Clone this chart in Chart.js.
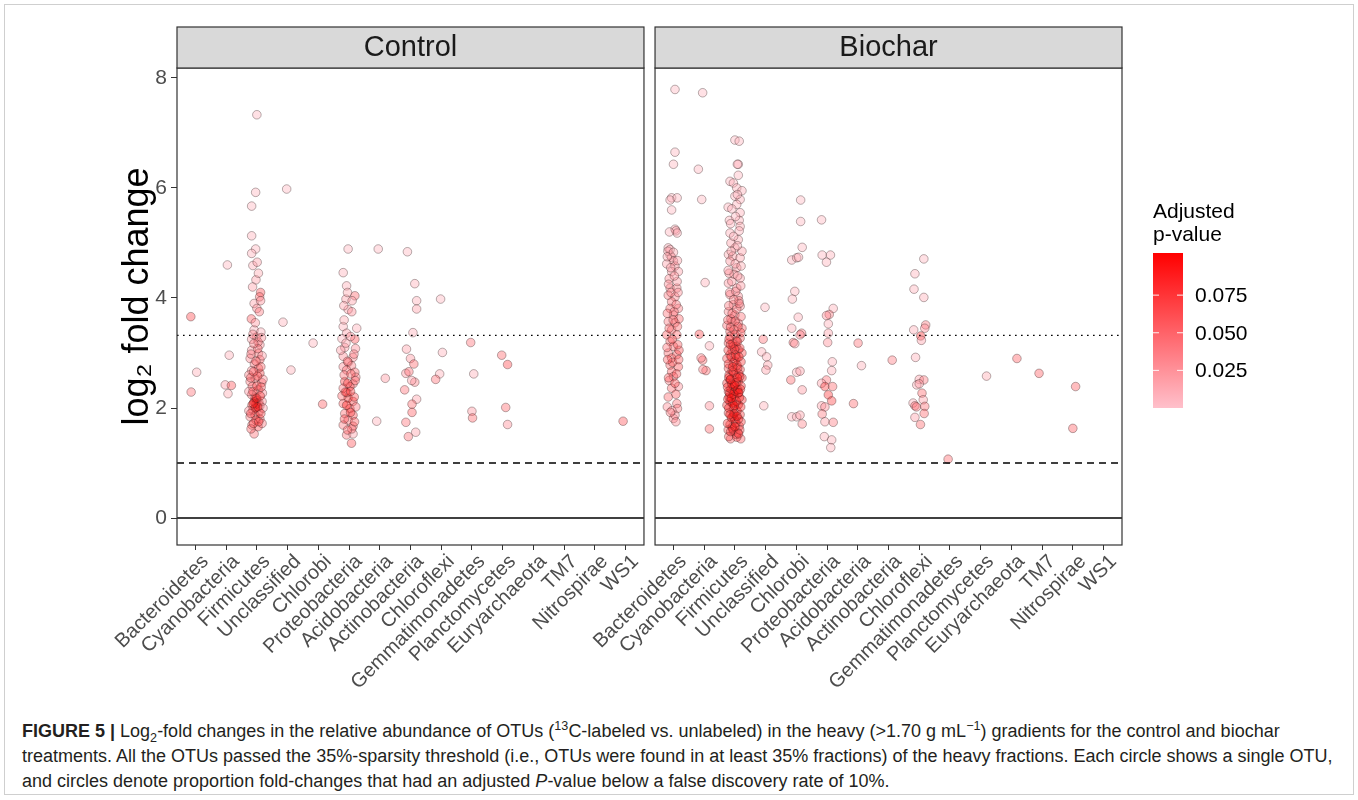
<!DOCTYPE html>
<html>
<head>
<meta charset="utf-8">
<title>Log2 fold change of OTUs</title>
<script src="https://cdn.jsdelivr.net/npm/chart.js@4.4.1/dist/chart.umd.min.js"></script>
<style>
  body { margin: 0; background: #fff; font-family: "Liberation Sans", Arial, sans-serif; }
  #frame { position: absolute; left: 4px; top: 4px; width: 1348px; height: 789px; border: 1px solid #cfcfcf; }
  #wrap { position: absolute; left: 0; top: 0; width: 1358px; height: 700px; }
  #caption {
    position: absolute; left: 22px; top: 719px; white-space: nowrap;
    font-family: "Liberation Sans Narrow", "Arial Narrow", sans-serif;
    font-size: 18px; line-height: 25px; color: #231f20;
  }
  #caption sup, #caption sub { font-size: 70%; line-height: 0; }
</style>
</head>
<body>
<div id="frame"></div>
<div id="wrap"><canvas id="chartCanvas"></canvas></div>
<div id="caption"><b>FIGURE 5 |</b> Log<sub>2</sub>-fold changes in the relative abundance of OTUs (<sup>13</sup>C-labeled vs. unlabeled) in the heavy (&gt;1.70 g mL<sup>−1</sup>) gradients for the control and biochar<br>treatments. All the OTUs passed the 35%-sparsity threshold (i.e., OTUs were found in at least 35% fractions) of the heavy fractions. Each circle shows a single OTU,<br>and circles denote proportion fold-changes that had an adjusted <i>P</i>-value below a false discovery rate of 10%.</div>
<script>
const phyla = ["Bacteroidetes", "Cyanobacteria", "Firmicutes", "Unclassified", "Chlorobi",
  "Proteobacteria", "Acidobacteria", "Actinobacteria", "Chloroflexi", "Gemmatimonadetes",
  "Planctomycetes", "Euryarchaeota", "TM7", "Nitrospirae", "WS1"];
const panels = ["Control", "Biochar"];
const yTicks = [0, 2, 4, 6, 8];
const refLines = [0, 1, 3.32]; // zero, 2-fold and 10-fold lines
const legendTicks = [0.025, 0.050, 0.075];

// Each OTU: [jittered phylum position, log2 fold change, adjusted p-value]
const controlOtus = [
  // Bacteroidetes
  [0.85, 3.66, 0.065], [1.04, 2.65, 0.012], [0.86, 2.29, 0.045],
  // Cyanobacteria
  [2.04, 4.60, 0.008], [2.10, 2.96, 0.012], [1.97, 2.42, 0.02], [2.17, 2.41, 0.06], [2.06, 2.26, 0.015],
  // Firmicutes
  [3.00, 7.33, 0.006], [2.96, 5.92, 0.008], [2.83, 5.67, 0.008], [2.83, 5.13, 0.01], [2.96, 4.89, 0.008],
  [2.83, 4.81, 0.01], [2.87, 4.59, 0.012], [3.01, 4.65, 0.02], [2.97, 4.33, 0.02], [3.12, 4.10, 0.06],
  [3.09, 4.02, 0.05], [2.91, 3.90, 0.02], [3.00, 3.81, 0.03], [3.08, 3.75, 0.04], [2.82, 3.62, 0.055],
  [2.91, 3.42, 0.01], [2.99, 3.29, 0.05], [2.83, 3.25, 0.02], [3.10, 3.15, 0.03], [2.83, 3.05, 0.025],
  [3.05, 2.99, 0.05], [2.78, 2.90, 0.03], [3.10, 2.88, 0.06], [2.92, 2.80, 0.045], [3.05, 2.72, 0.05],
  [2.83, 2.68, 0.03], [3.10, 2.63, 0.065], [2.94, 2.54, 0.05], [2.78, 2.48, 0.04], [3.16, 2.46, 0.06],
  [2.85, 2.39, 0.045], [3.05, 2.33, 0.06], [3.18, 2.27, 0.03], [2.83, 2.24, 0.05], [2.94, 2.18, 0.08],
  [3.00, 2.14, 0.09], [2.91, 2.11, 0.085], [3.07, 2.10, 0.08], [2.97, 2.07, 0.09], [2.84, 2.05, 0.07],
  [3.10, 2.04, 0.06], [3.17, 2.12, 0.03], [2.87, 1.96, 0.06], [3.07, 1.93, 0.05], [2.94, 1.87, 0.07],
  [2.78, 1.84, 0.04], [3.10, 1.80, 0.055], [2.97, 1.78, 0.06], [2.84, 1.69, 0.05], [3.04, 1.66, 0.065],
  [2.91, 1.53, 0.045], [3.13, 3.38, 0.012], [2.87, 3.34, 0.03], [3.04, 3.20, 0.04], [3.17, 2.95, 0.02],
  [2.74, 2.60, 0.035], [3.20, 2.52, 0.03], [2.74, 2.30, 0.025], [3.20, 2.00, 0.02], [2.74, 1.95, 0.03],
  [3.17, 1.72, 0.04], [2.81, 1.62, 0.05],
  [2.89, 1.72, 0.06], [3.06, 1.75, 0.07], [2.80, 1.90, 0.06], [3.13, 1.90, 0.065], [2.95, 2.00, 0.09],
  [3.03, 2.02, 0.095], [2.88, 2.08, 0.085], [2.99, 2.18, 0.085], [3.11, 2.22, 0.07], [2.87, 2.30, 0.06],
  [3.00, 2.40, 0.065], [3.14, 2.38, 0.055], [2.80, 2.55, 0.05], [3.02, 2.58, 0.06], [2.89, 2.66, 0.055],
  [3.13, 2.75, 0.05], [2.97, 2.85, 0.05], [2.81, 2.98, 0.04], [3.03, 3.08, 0.045], [2.90, 3.17, 0.04],
  [3.15, 3.28, 0.03], [2.95, 3.55, 0.025], [3.12, 3.95, 0.03], [2.86, 4.20, 0.02], [3.05, 4.45, 0.015],
  // Unclassified
  [3.97, 5.98, 0.006], [3.85, 3.56, 0.01], [4.11, 2.69, 0.012],
  // Chlorobi
  [4.83, 3.18, 0.01], [5.14, 2.07, 0.055],
  // Proteobacteria
  [5.97, 4.89, 0.008], [5.81, 4.46, 0.01], [5.92, 4.22, 0.012], [6.19, 4.04, 0.05], [5.90, 3.98, 0.02],
  [5.97, 3.79, 0.02], [6.09, 3.75, 0.03], [5.81, 3.48, 0.01], [5.92, 3.36, 0.02], [6.19, 3.25, 0.06],
  [5.77, 3.26, 0.01], [6.21, 3.08, 0.03], [5.86, 3.10, 0.025], [5.81, 2.94, 0.03], [6.13, 2.92, 0.035],
  [5.97, 2.83, 0.05], [6.08, 2.77, 0.04], [5.81, 2.75, 0.03], [6.19, 2.65, 0.05], [5.92, 2.69, 0.045],
  [5.86, 2.48, 0.07], [6.13, 2.44, 0.05], [6.03, 2.39, 0.06], [5.81, 2.36, 0.045], [5.97, 2.18, 0.085],
  [6.13, 2.12, 0.07], [5.81, 2.08, 0.055], [6.03, 1.99, 0.075], [5.86, 1.90, 0.05], [6.13, 1.87, 0.06],
  [5.97, 1.78, 0.045], [5.81, 1.69, 0.04], [6.13, 1.67, 0.05], [5.92, 1.51, 0.04], [6.13, 1.53, 0.02],
  [6.08, 1.36, 0.06], [5.73, 3.05, 0.02], [6.22, 2.56, 0.04], [5.77, 2.22, 0.05], [6.22, 2.02, 0.04],
  [5.93, 2.28, 0.06], [6.09, 1.62, 0.045], [6.25, 3.45, 0.012], [5.83, 3.86, 0.02],
  [5.95, 1.60, 0.05], [6.18, 1.75, 0.055], [5.85, 1.80, 0.06], [6.05, 1.92, 0.07], [5.92, 2.05, 0.085],
  [6.17, 2.20, 0.06], [5.88, 2.29, 0.07], [6.05, 2.30, 0.075], [5.96, 2.45, 0.065], [6.20, 2.50, 0.05],
  [5.84, 2.60, 0.045], [6.06, 2.62, 0.05], [5.95, 2.85, 0.04], [6.16, 2.98, 0.035], [5.90, 3.18, 0.02],
  [6.05, 3.30, 0.025], [5.84, 3.60, 0.015], [6.10, 3.95, 0.02], [5.95, 4.10, 0.015],
  // Acidobacteria
  [6.95, 4.89, 0.008], [7.18, 2.54, 0.025], [6.90, 1.76, 0.012],
  // Actinobacteria
  [7.90, 4.84, 0.008], [8.14, 4.26, 0.012], [8.20, 3.95, 0.012], [8.20, 3.80, 0.02], [8.08, 3.37, 0.012],
  [7.87, 3.07, 0.02], [8.00, 2.90, 0.025], [8.11, 2.80, 0.05], [7.85, 2.63, 0.025], [7.95, 2.66, 0.045],
  [8.14, 2.47, 0.035], [8.04, 2.50, 0.02], [7.81, 2.33, 0.045], [8.20, 2.16, 0.02], [8.05, 2.07, 0.05],
  [8.05, 1.92, 0.055], [7.85, 1.74, 0.045], [8.17, 1.56, 0.02], [7.93, 1.48, 0.045],
  // Chloroflexi
  [8.98, 3.98, 0.008], [9.04, 3.01, 0.01], [8.95, 2.62, 0.012], [8.82, 2.52, 0.045],
  // Gemmatimonadetes
  [9.96, 3.19, 0.045], [10.06, 2.62, 0.012], [10.00, 1.94, 0.025], [10.02, 1.82, 0.05],
  // Planctomycetes
  [10.97, 2.96, 0.05], [11.16, 2.79, 0.065], [11.10, 2.01, 0.05], [11.16, 1.70, 0.03],
  // WS1
  [14.92, 1.76, 0.06]
];

const biocharOtus = [
  // Bacteroidetes
  [1.05, 7.79, 0.006], [1.05, 6.65, 0.008], [1.00, 6.43, 0.008], [0.94, 5.82, 0.008], [0.89, 5.78, 0.01],
  [0.94, 5.60, 0.008], [1.05, 5.25, 0.012], [1.08, 5.22, 0.02], [1.12, 5.18, 0.012], [0.83, 4.91, 0.012],
  [0.89, 4.78, 0.02], [0.94, 4.74, 0.02], [1.00, 4.67, 0.025], [0.78, 4.62, 0.02], [1.05, 4.58, 0.03],
  [0.94, 4.48, 0.025], [1.16, 4.48, 0.02], [0.89, 4.18, 0.03], [1.11, 4.18, 0.035], [0.83, 4.05, 0.04],
  [1.05, 4.02, 0.035], [0.94, 3.93, 0.045], [0.89, 3.81, 0.05], [1.16, 3.81, 0.04], [1.00, 3.69, 0.045],
  [0.83, 3.57, 0.04], [1.05, 3.55, 0.05], [0.94, 3.42, 0.05], [0.78, 3.33, 0.055], [1.11, 3.33, 0.05],
  [0.89, 3.21, 0.05], [1.00, 3.12, 0.055], [0.83, 3.00, 0.05], [1.11, 2.97, 0.06], [0.94, 2.91, 0.055],
  [1.16, 2.75, 0.06], [0.89, 2.78, 0.05], [0.94, 2.66, 0.055], [1.00, 2.57, 0.04], [1.16, 2.39, 0.03],
  [0.94, 2.36, 0.05], [0.80, 2.02, 0.03], [1.11, 2.08, 0.045], [1.13, 1.99, 0.04], [1.00, 1.81, 0.035],
  [1.05, 1.87, 0.03], [0.86, 4.35, 0.03], [1.12, 4.30, 0.025], [1.02, 3.75, 0.04], [1.18, 3.62, 0.05],
  [0.79, 3.10, 0.045], [1.18, 3.05, 0.06], [0.86, 2.50, 0.04], [1.05, 2.45, 0.06], [0.95, 1.95, 0.02],
  [1.08, 1.75, 0.03], [0.89, 4.88, 0.01], [0.82, 4.85, 0.02],
  [0.84, 2.55, 0.055], [1.10, 2.62, 0.06], [0.97, 2.83, 0.06], [0.81, 2.88, 0.055], [1.14, 3.15, 0.055],
  [0.96, 3.25, 0.06], [0.86, 3.45, 0.05], [1.13, 3.48, 0.05], [0.99, 3.60, 0.045], [0.80, 3.72, 0.045],
  [1.09, 3.88, 0.04], [0.92, 4.10, 0.035], [1.15, 4.10, 0.03], [0.84, 4.25, 0.03], [1.03, 4.40, 0.025],
  [0.91, 4.55, 0.02], [1.13, 4.68, 0.02], [0.80, 4.75, 0.015], [1.00, 4.83, 0.015], [0.87, 5.20, 0.01],
  [1.12, 5.82, 0.008], [0.83, 2.20, 0.05], [1.08, 2.25, 0.055], [0.90, 1.92, 0.04], [1.17, 2.88, 0.055],
  // Cyanobacteria
  [1.95, 7.73, 0.006], [1.81, 6.34, 0.008], [1.92, 5.79, 0.008], [2.03, 4.28, 0.012], [1.84, 3.34, 0.065],
  [2.17, 3.13, 0.012], [1.95, 2.87, 0.05], [1.90, 2.91, 0.035], [2.06, 2.68, 0.05], [1.96, 2.70, 0.04],
  [2.17, 2.04, 0.03], [2.17, 1.62, 0.05],
  // Firmicutes
  [3.00, 6.87, 0.006], [3.14, 6.85, 0.008], [3.11, 6.43, 0.008], [3.08, 6.43, 0.01], [2.84, 6.12, 0.008],
  [2.95, 6.09, 0.01], [3.11, 6.23, 0.008], [3.06, 6.00, 0.01], [3.00, 5.85, 0.008], [3.17, 5.79, 0.012],
  [3.06, 5.70, 0.01], [3.17, 5.55, 0.012], [2.82, 5.41, 0.01], [3.14, 5.41, 0.012], [3.17, 5.30, 0.015],
  [2.84, 5.18, 0.012], [3.11, 5.06, 0.015], [3.00, 4.91, 0.02], [2.79, 4.79, 0.015], [2.93, 4.76, 0.025],
  [3.17, 4.73, 0.02], [2.84, 4.67, 0.025], [3.06, 4.55, 0.025], [2.97, 4.43, 0.03], [3.17, 4.36, 0.02],
  [2.79, 4.27, 0.025], [3.06, 4.18, 0.03], [2.84, 4.06, 0.035], [3.11, 4.03, 0.03], [2.95, 3.88, 0.04],
  [3.17, 3.85, 0.035], [2.79, 3.75, 0.035], [3.00, 3.69, 0.045], [2.90, 3.57, 0.04], [3.11, 3.54, 0.045],
  [2.84, 3.39, 0.055], [3.00, 3.33, 0.065], [3.17, 3.27, 0.06], [2.79, 3.18, 0.065], [2.95, 3.12, 0.07],
  [3.11, 3.06, 0.06], [2.84, 2.97, 0.07], [3.06, 2.91, 0.075], [2.95, 2.82, 0.07], [2.79, 2.72, 0.065],
  [3.17, 2.70, 0.075], [3.00, 2.61, 0.08], [2.84, 2.51, 0.07], [3.11, 2.48, 0.08], [2.95, 2.39, 0.085],
  [2.79, 2.30, 0.075], [3.11, 2.27, 0.09], [2.98, 2.21, 0.085], [2.84, 2.12, 0.08], [3.11, 2.06, 0.09],
  [2.95, 2.00, 0.085], [2.79, 1.91, 0.07], [3.17, 1.88, 0.075], [3.00, 1.79, 0.08], [2.84, 1.70, 0.07],
  [3.14, 1.67, 0.065], [2.95, 1.58, 0.06], [2.86, 1.44, 0.05], [3.19, 1.44, 0.055],
  [3.23, 3.45, 0.05], [2.74, 3.50, 0.045], [3.23, 3.00, 0.07], [2.74, 2.90, 0.06], [3.23, 2.55, 0.075],
  [2.74, 2.45, 0.07], [3.23, 2.15, 0.08], [2.74, 2.05, 0.075], [3.20, 1.75, 0.07], [2.78, 1.60, 0.06],
  [3.04, 1.52, 0.07], [2.87, 2.35, 0.09], [3.07, 2.78, 0.08], [2.91, 3.05, 0.065], [3.04, 3.22, 0.06],
  [2.87, 3.62, 0.04], [3.13, 3.95, 0.04], [2.81, 4.45, 0.03], [3.23, 4.85, 0.02], [2.87, 5.00, 0.02],
  [3.23, 5.95, 0.012], [2.78, 5.65, 0.01], [2.94, 1.85, 0.09], [3.07, 1.95, 0.08], [2.81, 2.20, 0.085],
  [3.20, 2.40, 0.08], [3.00, 2.85, 0.075], [2.81, 2.60, 0.08], [3.13, 2.62, 0.07], [3.00, 2.30, 0.09],
  [2.91, 1.65, 0.075], [3.10, 1.55, 0.065], [2.91, 2.68, 0.07], [3.04, 3.12, 0.07], [2.84, 3.30, 0.055],
  [2.80, 1.48, 0.06], [3.06, 1.47, 0.065], [2.93, 1.62, 0.08], [3.16, 1.60, 0.07], [2.76, 1.72, 0.075],
  [3.03, 1.73, 0.085], [2.89, 1.82, 0.09], [3.12, 1.80, 0.08], [2.97, 1.90, 0.095], [2.80, 2.00, 0.08],
  [3.19, 2.02, 0.085], [2.92, 2.09, 0.095], [3.05, 2.12, 0.09], [2.77, 2.16, 0.08], [3.15, 2.19, 0.085],
  [2.95, 2.25, 0.095], [2.83, 2.27, 0.09], [3.09, 2.33, 0.09], [2.76, 2.38, 0.08], [3.18, 2.34, 0.085],
  [2.90, 2.44, 0.09], [3.04, 2.46, 0.085], [2.80, 2.55, 0.08], [3.16, 2.57, 0.08], [2.95, 2.65, 0.085],
  [3.09, 2.73, 0.08], [2.79, 2.80, 0.075], [3.20, 2.84, 0.075], [2.88, 2.93, 0.08], [3.02, 2.96, 0.085],
  [2.78, 3.05, 0.07], [3.16, 3.09, 0.07], [2.93, 3.17, 0.075], [3.08, 3.21, 0.07], [2.81, 3.25, 0.065],
  [3.19, 3.37, 0.06], [2.97, 3.42, 0.06], [2.86, 3.47, 0.055], [3.10, 3.48, 0.055], [2.77, 3.60, 0.05],
  [3.01, 3.58, 0.05], [3.20, 3.66, 0.045], [2.91, 3.72, 0.045], [3.06, 3.80, 0.04], [2.80, 3.86, 0.04],
  [3.14, 3.90, 0.035], [2.96, 3.97, 0.035], [2.83, 4.10, 0.03], [3.03, 4.12, 0.03], [3.19, 4.22, 0.025],
  [2.90, 4.30, 0.025], [3.09, 4.40, 0.02], [2.78, 4.50, 0.02], [3.01, 4.62, 0.02], [3.20, 4.58, 0.015],
  [2.88, 4.85, 0.015], [3.08, 4.95, 0.012], [2.96, 5.12, 0.01], [3.14, 5.22, 0.01], [2.86, 5.35, 0.01],
  [3.02, 5.48, 0.008], [2.90, 5.62, 0.008], [3.08, 5.88, 0.008],
  [3.12, 1.53, 0.07], [2.86, 1.57, 0.075], [3.00, 1.66, 0.09], [2.84, 1.88, 0.09], [3.07, 1.85, 0.095],
  [2.98, 2.04, 0.1], [2.88, 2.18, 0.1], [3.13, 2.28, 0.095], [2.99, 2.42, 0.1], [2.86, 2.52, 0.09],
  [3.08, 2.55, 0.09], [2.93, 2.75, 0.085], [3.13, 2.93, 0.08], [2.99, 3.07, 0.075], [2.86, 3.15, 0.07],
  // Unclassified
  [3.98, 3.83, 0.008], [3.92, 3.25, 0.045], [3.87, 3.02, 0.012], [4.03, 2.93, 0.012], [4.07, 2.78, 0.02],
  [4.01, 2.69, 0.02], [3.94, 2.04, 0.012],
  // Chlorobi
  [5.14, 5.78, 0.006], [5.14, 5.39, 0.008], [5.19, 4.92, 0.008], [4.85, 4.69, 0.01], [5.01, 4.73, 0.01],
  [5.07, 4.74, 0.01], [4.95, 4.12, 0.01], [4.87, 3.98, 0.01], [5.06, 3.65, 0.012], [4.85, 3.45, 0.012],
  [5.17, 3.36, 0.045], [5.12, 3.33, 0.03], [4.90, 3.19, 0.05], [4.95, 3.17, 0.02], [5.01, 2.65, 0.012],
  [5.12, 2.67, 0.02], [4.82, 2.51, 0.05], [5.19, 2.33, 0.025], [4.85, 1.84, 0.01], [5.01, 1.84, 0.012],
  [5.12, 1.87, 0.02], [5.19, 1.71, 0.035],
  // Proteobacteria
  [5.82, 5.42, 0.008], [5.84, 4.78, 0.008], [6.11, 4.78, 0.01], [5.98, 4.65, 0.01], [6.20, 3.81, 0.012],
  [6.07, 3.70, 0.04], [5.98, 3.68, 0.03], [6.04, 3.53, 0.012], [6.04, 3.36, 0.02], [6.02, 3.19, 0.03],
  [6.17, 2.84, 0.012], [6.15, 2.68, 0.012], [5.98, 2.51, 0.045], [5.82, 2.45, 0.02], [5.93, 2.39, 0.07],
  [6.18, 2.39, 0.05], [6.04, 2.24, 0.075], [6.15, 2.13, 0.07], [5.82, 2.04, 0.02], [5.93, 2.02, 0.03],
  [5.84, 1.89, 0.04], [5.93, 1.75, 0.02], [6.20, 1.74, 0.04], [5.91, 1.48, 0.012], [6.15, 1.42, 0.012],
  [6.12, 1.28, 0.012],
  // Acidobacteria
  [7.01, 3.18, 0.045], [7.12, 2.77, 0.012], [6.86, 2.08, 0.05],
  // Actinobacteria
  [8.12, 2.87, 0.04],
  // Chloroflexi
  [9.15, 4.71, 0.008], [8.86, 4.44, 0.01], [8.83, 4.16, 0.01], [9.15, 4.01, 0.012], [9.21, 3.51, 0.04],
  [9.18, 3.45, 0.03], [8.82, 3.42, 0.012], [9.05, 3.31, 0.08], [9.07, 3.23, 0.02], [8.88, 2.92, 0.012],
  [9.00, 2.52, 0.02], [9.15, 2.51, 0.04], [8.92, 2.42, 0.012], [9.00, 2.44, 0.02], [9.09, 2.27, 0.05],
  [8.80, 2.09, 0.012], [8.86, 2.04, 0.045], [9.13, 2.15, 0.02], [8.91, 2.02, 0.04], [9.18, 2.03, 0.045],
  [9.16, 1.90, 0.05], [8.86, 1.83, 0.02], [9.04, 1.70, 0.05],
  // Gemmatimonadetes
  [9.94, 1.07, 0.05],
  // Planctomycetes
  [11.19, 2.58, 0.015],
  // Euryarchaeota
  [12.18, 2.90, 0.055],
  // TM7
  [12.90, 2.63, 0.055],
  // Nitrospirae
  [14.09, 2.39, 0.055], [14.00, 1.63, 0.055]
];

// colourbar limits for the adjusted p-value
const P_MIN = 0, P_MAX = 0.103;

// discrete axis expansion and the spacing between the two facets (in axis units)
const EXPAND = 0.6;
const GAP = 0.36;
const panelSpan = phyla.length - 1 + 2 * EXPAND;
const shift = panelSpan + GAP;
const panelRanges = panels.map((_, k) => [1 - EXPAND + k * shift, phyla.length + EXPAND + k * shift]);
const tickPositions = panels.flatMap((_, k) => phyla.map((_, i) => i + 1 + k * shift));

const FONT = '"Liberation Sans", Arial, sans-serif';

// pink -> red gradient
function pColor(p, alpha) {
  const t = Math.min(1, Math.max(0, (p - P_MIN) / (P_MAX - P_MIN)));
  const g = Math.round(192 * (1 - t));
  const b = Math.round(203 * (1 - t));
  return `rgba(255, ${g}, ${b}, ${alpha})`;
}

function otuDataset(rows, k) {
  return {
    type: "scatter",
    data: rows.map(([x, y, p]) => ({ x: x + k * shift, y: y, p: p })),
    backgroundColor: rows.map((r) => pColor(r[2], 0.4)),
    borderColor: "rgba(40, 20, 20, 0.33)",
    borderWidth: 1,
    pointRadius: 4.3,
    order: 2,
  };
}

// horizontal reference lines, one copy per facet
const lineStyles = [[], [7, 5], [1.6, 4.4]];
const lineDatasets = [];
panelRanges.forEach((range) => {
  refLines.forEach((v, j) => {
    lineDatasets.push({
      type: "line",
      data: [{ x: range[0], y: v }, { x: range[1], y: v }],
      borderColor: "#000",
      borderWidth: 1.4,
      borderDash: lineStyles[j],
      pointRadius: 0,
      fill: false,
      order: 1,
    });
  });
});

// facet borders, strip headers and colourbar legend
const facetPlugin = {
  id: "facets",
  afterDatasetsDraw(chart) {
    const { ctx, chartArea, scales } = chart;
    ctx.save();
    ctx.strokeStyle = "#333";
    ctx.lineWidth = 1.2;
    panelRanges.forEach((range) => {
      const x0 = scales.x.getPixelForValue(range[0]);
      const x1 = scales.x.getPixelForValue(range[1]);
      ctx.strokeRect(x0, chartArea.top, x1 - x0, chartArea.bottom - chartArea.top);
    });
    ctx.restore();
  },
  afterDraw(chart) {
    const { ctx, chartArea, scales } = chart;
    ctx.save();
    // strips
    panelRanges.forEach((range, k) => {
      const x0 = scales.x.getPixelForValue(range[0]);
      const x1 = scales.x.getPixelForValue(range[1]);
      const top = chartArea.top - 41;
      ctx.fillStyle = "#d9d9d9";
      ctx.fillRect(x0, top, x1 - x0, 41);
      ctx.strokeStyle = "#333";
      ctx.lineWidth = 1.2;
      ctx.strokeRect(x0, top, x1 - x0, 41);
      ctx.fillStyle = "#1a1a1a";
      ctx.font = `29px ${FONT}`;
      ctx.textAlign = "center";
      ctx.textBaseline = "middle";
      ctx.fillText(panels[k], (x0 + x1) / 2, top + 21);
    });

    // colourbar
    const bar = { x: 1153, y: 253, w: 30, h: 155 };
    const grad = ctx.createLinearGradient(0, bar.y + bar.h, 0, bar.y);
    for (let s = 0; s <= 10; s++) {
      grad.addColorStop(s / 10, pColor(P_MIN + (s / 10) * (P_MAX - P_MIN), 1));
    }
    ctx.fillStyle = grad;
    ctx.fillRect(bar.x, bar.y, bar.w, bar.h);

    ctx.fillStyle = "#000";
    ctx.font = `21px ${FONT}`;
    ctx.textAlign = "left";
    ctx.textBaseline = "alphabetic";
    ctx.fillText("Adjusted", bar.x, 218);
    ctx.fillText("p-value", bar.x, 241);

    ctx.textBaseline = "middle";
    legendTicks.forEach((p) => {
      const y = bar.y + bar.h - ((p - P_MIN) / (P_MAX - P_MIN)) * bar.h;
      ctx.strokeStyle = "rgba(255,255,255,0.9)";
      ctx.lineWidth = 1;
      ctx.beginPath();
      ctx.moveTo(bar.x, y);
      ctx.lineTo(bar.x + 6, y);
      ctx.moveTo(bar.x + bar.w - 6, y);
      ctx.lineTo(bar.x + bar.w, y);
      ctx.stroke();
      ctx.fillStyle = "#000";
      ctx.fillText(p.toFixed(3), bar.x + bar.w + 12, y + 1);
    });
    ctx.restore();
  },
};

const ctx = document.getElementById("chartCanvas").getContext("2d");
const chart = new Chart(ctx, {
  type: "scatter",
  data: {
    datasets: [otuDataset(controlOtus, 0), otuDataset(biocharOtus, 1), ...lineDatasets],
  },
  options: {
    responsive: true,
    maintainAspectRatio: false,
    animation: false,
    layout: { padding: { left: 116, top: 68, right: 236, bottom: 0 } },
    plugins: {
      legend: { display: false },
      tooltip: { enabled: false },
    },
    scales: {
      x: {
        type: "linear",
        min: panelRanges[0][0],
        max: panelRanges[1][1],
        afterBuildTicks: (scale) => {
          scale.ticks = tickPositions.map((v) => ({ value: v }));
        },
        afterFit: (scale) => {
          scale.height = 155;
        },
        border: { display: false },
        grid: { drawOnChartArea: false, drawTicks: true, tickLength: 5, tickColor: "#333", color: "#333" },
        ticks: {
          autoSkip: false,
          minRotation: 45,
          maxRotation: 45,
          padding: 0,
          labelOffset: 10,
          color: "#4d4d4d",
          font: { family: FONT, size: 20 },
          callback: (value, index) => phyla[index % phyla.length],
        },
      },
      y: {
        min: -0.49,
        max: 8.18,
        afterBuildTicks: (scale) => {
          scale.ticks = yTicks.map((v) => ({ value: v }));
        },
        afterFit: (scale) => {
          scale.width = 61;
        },
        border: { display: false },
        grid: { drawOnChartArea: false, drawTicks: true, tickLength: 6, tickColor: "#333", color: "#333" },
        ticks: {
          padding: 4,
          color: "#4d4d4d",
          font: { family: FONT, size: 21 },
        },
        title: {
          display: true,
          // two leading spaces lift the rotated label slightly above the panel centre
          text: "  log₂ fold change",
          color: "#000",
          font: { family: FONT, size: 36 },
          padding: { top: 0, bottom: 0 },
        },
      },
    },
  },
  plugins: [facetPlugin],
});
</script>
</body>
</html>
